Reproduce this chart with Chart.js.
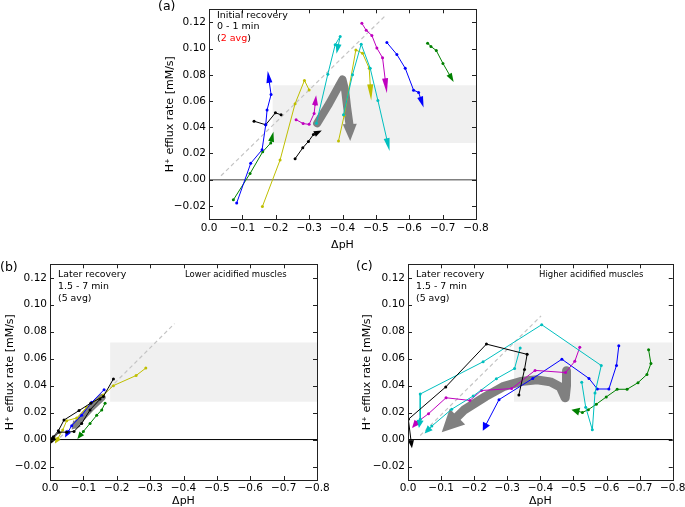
<!DOCTYPE html>
<html><head><meta charset="utf-8">
<script src="https://cdn.jsdelivr.net/npm/chart.js@4.4.1/dist/chart.umd.min.js"></script>
<style>
html,body{margin:0;padding:0;background:#fff;width:685px;height:507px;overflow:hidden;position:relative;font-family:"DejaVu Sans",sans-serif;}
canvas{position:absolute;}
.t{position:absolute;white-space:nowrap;color:#000;font-family:"DejaVu Sans",sans-serif;}
</style></head><body>
<canvas id="ca" width="345" height="255" style="left:150px;top:0px"></canvas>
<canvas id="cb" width="335" height="252" style="left:0px;top:255px"></canvas>
<canvas id="cc" width="330" height="252" style="left:357px;top:255px"></canvas>

<div class="t" style="left:158px;top:-1px;font-size:12.5px;line-height:14px">(a)</div>
<div class="t" style="left:0px;top:260px;font-size:12.5px;line-height:14px">(b)</div>
<div class="t" style="left:356px;top:259px;font-size:12.5px;line-height:14px">(c)</div>
<div class="t" style="left:217px;top:9px;font-size:9.5px;line-height:11.3px">Initial recovery<br>0 - 1 min<br>(<span style="color:#ff0000">2 avg</span>)</div>
<div class="t" style="left:58px;top:267.7px;font-size:9.4px;line-height:12px">Later recovery<br>1.5 - 7 min<br>(5 avg)</div>
<div class="t" style="left:416px;top:267.7px;font-size:9.4px;line-height:12px">Later recovery<br>1.5 - 7 min<br>(5 avg)</div>
<div class="t" style="left:185px;top:268.8px;font-size:8.5px;line-height:10px">Lower acidified muscles</div>
<div class="t" style="left:539px;top:268.8px;font-size:8.5px;line-height:10px">Higher acidified muscles</div>

<script>
// ---------- axis ticks ----------
const xTicks = [0, -0.1, -0.2, -0.3, -0.4, -0.5, -0.6, -0.7, -0.8];
const yTicks = [-0.02, 0, 0.02, 0.04, 0.06, 0.08, 0.10, 0.12];
const bandTop = 0.072, bandBottom = 0.028;

// ---------- panel (a): initial recovery (dpH, efflux) ----------
const aBlue1    = [[-0.083,-0.0178],[-0.125,0.0125],[-0.159,0.0228],[-0.170,0.0419],[-0.174,0.0532],[-0.186,0.0649],[-0.176,0.0830]];
const aGreen1   = [[-0.073,-0.0154],[-0.123,0.0047],[-0.161,0.0213],[-0.185,0.0280],[-0.193,0.0365]];
const aBlack1   = [[-0.135,0.0446],[-0.170,0.0419],[-0.199,0.0510],[-0.216,0.0495]];
const aYellow1  = [[-0.160,-0.0205],[-0.213,0.0150],[-0.258,0.0580],[-0.286,0.0757],[-0.300,0.0685]];
const aMagenta1 = [[-0.261,0.0458],[-0.282,0.0428],[-0.300,0.0422],[-0.315,0.0505],[-0.318,0.0575],[-0.321,0.0645]];
const aBlack2   = [[-0.258,0.0160],[-0.281,0.0243],[-0.298,0.0292],[-0.313,0.0345],[-0.338,0.0375]];
const aCyan1    = [[-0.322,0.0430],[-0.356,0.0805],[-0.378,0.1029],[-0.393,0.1093],[-0.382,0.0960]];
const aCyan2    = [[-0.403,0.0495],[-0.430,0.0800],[-0.456,0.1034],[-0.483,0.0850],[-0.506,0.0605],[-0.541,0.0218]];
const aYellow2  = [[-0.388,0.0295],[-0.405,0.0490],[-0.440,0.0990],[-0.460,0.0965],[-0.480,0.0850],[-0.486,0.0605]];
const aMagenta2 = [[-0.458,0.1193],[-0.471,0.1140],[-0.488,0.1100],[-0.503,0.1004],[-0.520,0.0930],[-0.533,0.0659]];
const aBlue2    = [[-0.533,0.1046],[-0.563,0.0955],[-0.588,0.0850],[-0.613,0.0683],[-0.628,0.0666],[-0.643,0.0551]];
const aGreen2   = [[-0.655,0.1041],[-0.665,0.1017],[-0.681,0.0985],[-0.701,0.0887],[-0.733,0.0745]];
const aMean     = [[-0.324,0.0430],[-0.360,0.0580],[-0.390,0.0720],[-0.400,0.0765],[-0.408,0.0680],[-0.414,0.0550],[-0.422,0.0400],[-0.423,0.0295]];
const aDiag     = [[-0.036,0.003],[-0.528,0.125]];
const aBandX    = [-0.19, -0.8];

// ---------- panel (b): later recovery, lower acidified ----------
const bBlack1 = [[-0.190,0.0450],[-0.160,0.0320],[-0.122,0.0270],[-0.087,0.0215],[-0.042,0.0145],[-0.025,0.0065],[-0.010,0.0020],[-0.002,-0.0030]];
const bBlack2 = [[-0.150,0.0300],[-0.120,0.0220],[-0.095,0.0120],[-0.072,0.0060],[-0.050,0.0055],[-0.027,0.0055],[-0.010,0.0010],[-0.004,-0.0030]];
const bBlue   = [[-0.162,0.0370],[-0.125,0.0276],[-0.095,0.0180],[-0.065,0.0103],[-0.055,0.0060],[-0.045,0.0015]];
const bGreen  = [[-0.165,0.0269],[-0.155,0.0220],[-0.140,0.0180],[-0.120,0.0120],[-0.100,0.0060],[-0.082,0.0005]];
const bYellow = [[-0.287,0.0530],[-0.258,0.0475],[-0.190,0.0400],[-0.160,0.0330],[-0.110,0.0240],[-0.080,0.0160],[-0.050,0.0140],[-0.038,0.0070],[-0.024,0.0010],[-0.015,-0.0030]];
const bMean   = [[-0.156,0.0313],[-0.125,0.0240],[-0.095,0.0160],[-0.065,0.0075]];
const bDiag   = [[-0.030,0.0015],[-0.373,0.086]];
const bBandX  = [-0.18, -0.8];

// ---------- panel (c): later recovery, higher acidified ----------
const cBlack   = [[-0.335,0.0331],[-0.352,0.0520],[-0.360,0.0632],[-0.237,0.0708],[-0.114,0.0390],[-0.001,0.0150],[-0.012,-0.0065]];
const cCyan1   = [[-0.525,0.0426],[-0.537,0.0240],[-0.557,0.0072],[-0.565,0.0345],[-0.584,0.0549],[-0.404,0.0852],[-0.227,0.0577],[-0.037,0.0338],[-0.037,0.0150],[-0.033,0.0085]];
const cCyan2   = [[-0.339,0.0679],[-0.322,0.0527],[-0.267,0.0451],[-0.197,0.0323],[-0.132,0.0225],[-0.072,0.0100],[-0.050,0.0045]];
const cMagenta = [[-0.519,0.0684],[-0.504,0.0580],[-0.476,0.0497],[-0.384,0.0513],[-0.313,0.0378],[-0.222,0.0364],[-0.187,0.0290],[-0.115,0.0310],[-0.062,0.0192],[-0.028,0.0130],[-0.012,0.0085]];
const cBlue    = [[-0.637,0.0695],[-0.630,0.0550],[-0.607,0.0375],[-0.572,0.0375],[-0.547,0.0453],[-0.465,0.0596],[-0.377,0.0453],[-0.275,0.0296],[-0.226,0.0065]];
const cGreen   = [[-0.727,0.0667],[-0.734,0.0564],[-0.722,0.0483],[-0.695,0.0422],[-0.662,0.0373],[-0.632,0.0373],[-0.599,0.0316],[-0.569,0.0262],[-0.545,0.0222],[-0.527,0.0201],[-0.494,0.0222]];
const cMean    = [[-0.479,0.0510],[-0.479,0.0400],[-0.475,0.0310],[-0.460,0.0390],[-0.430,0.0428],[-0.390,0.0443],[-0.340,0.0430],[-0.290,0.0395],[-0.235,0.0320],[-0.170,0.0220],[-0.102,0.0055]];
const cDiag    = [[-0.037,0.003],[-0.402,0.0917]];
const cBandX   = [-0.32, -0.8];

// ---------- styles ----------
const COL = {b:'#0000ff', g:'#008000', c:'#00bfbf', m:'#bf00bf', y:'#bfbf00', k:'#000000', mean:'#808080'};
const FONT = '"DejaVu Sans", sans-serif';
const toXY = pts => pts.map(p => ({x:p[0], y:p[1]}));

function series(pts, color, head) {
  const n = pts.length;
  return {
    data: toXY(pts), borderColor: color, backgroundColor: color, borderWidth: 1,
    pointRadius: c => (head && c.dataIndex === n - 1) ? 0 : 1.5,
    pointBorderWidth: 0, pointBackgroundColor: color, pointHoverRadius: 0,
    order: 1, headLen: head ? head[0] : 0, headW: head ? head[1] : 0, headBack: 0.5
  };
}
function meanSeries(pts, width, head) {
  return {
    data: toXY(pts), borderColor: COL.mean, backgroundColor: COL.mean, borderWidth: width,
    borderJoinStyle: 'round', borderCapStyle: 'round', pointRadius: 0, order: 2,
    headLen: head[0], headW: head[1], headBack: 0.75
  };
}
function band(xr) {
  return {data: toXY([[xr[0], bandTop], [xr[1], bandTop]]), borderWidth: 0, pointRadius: 0,
          fill: {value: bandBottom}, backgroundColor: '#f0f0f0', order: 6};
}
function diag(pts) {
  return {data: toXY(pts), borderColor: '#c4c4c4', borderWidth: 1.2, borderDash: [4, 3], pointRadius: 0, order: 4};
}
function zero(color, w) {
  return {data: toXY([[0, 0], [-0.8, 0]]), borderColor: color, borderWidth: w, pointRadius: 0, order: 5};
}

// arrow heads drawn at the last point of a dataset, direction from previous point
const headPlugin = {
  id: 'heads',
  beforeDatasetDraw(chart, args) {
    const ds = chart.data.datasets[args.index];
    if (!ds.headLen) return;
    const pts = args.meta.data, n = pts.length;
    const tip = pts[n - 1], prev = pts[n - 2];
    const dx = tip.x - prev.x, dy = tip.y - prev.y, d = Math.hypot(dx, dy) || 1;
    const ux = dx / d, uy = dy / d;
    chart.$heads = chart.$heads || {};
    chart.$heads[args.index] = {x: tip.x, y: tip.y, ux, uy};
    const back = Math.min(ds.headLen * ds.headBack, d * 0.9);
    tip.x -= ux * back; tip.y -= uy * back;
    args.meta.dataset._path = undefined;
  },
  afterDatasetDraw(chart, args) {
    const ds = chart.data.datasets[args.index];
    if (!ds.headLen) return;
    const h = chart.$heads[args.index];
    const pts = args.meta.data, tip = pts[pts.length - 1];
    tip.x = h.x; tip.y = h.y;
    const ctx = chart.ctx, L = ds.headLen, W = ds.headW;
    const bx = h.x - h.ux * L, by = h.y - h.uy * L;
    ctx.save();
    ctx.fillStyle = ds.borderColor;
    ctx.beginPath();
    ctx.moveTo(h.x, h.y);
    ctx.lineTo(bx - h.uy * W, by + h.ux * W);
    ctx.lineTo(bx + h.uy * W, by - h.ux * W);
    ctx.closePath();
    ctx.fill();
    ctx.restore();
  }
};

// matplotlib-like frame with inward ticks on all sides
const framePlugin = {
  id: 'frame',
  afterDatasetsDraw(chart) {
    const {ctx, chartArea: a, scales: {x, y}} = chart;
    ctx.save();
    ctx.strokeStyle = '#222'; ctx.lineWidth = 1;
    ctx.beginPath();
    xTicks.forEach(v => {
      const p = Math.round(x.getPixelForValue(v)) + 0.5;
      ctx.moveTo(p, a.bottom); ctx.lineTo(p, a.bottom - 4);
      ctx.moveTo(p, a.top); ctx.lineTo(p, a.top + 4);
    });
    yTicks.forEach(v => {
      const p = Math.round(y.getPixelForValue(v)) + 0.5;
      ctx.moveTo(a.left, p); ctx.lineTo(a.left + 4, p);
      ctx.moveTo(a.right, p); ctx.lineTo(a.right - 4, p);
    });
    ctx.stroke();
    ctx.strokeRect(Math.round(a.left) + 0.5, Math.round(a.top) + 0.5, Math.round(a.right - a.left), Math.round(a.bottom - a.top));
    ctx.restore();
  }
};

function fmtX(v) { return Math.abs(v) < 1e-9 ? '0.0' : '\u2212' + Math.abs(v).toFixed(1); }
function fmtY(v) { return Math.abs(v) < 1e-9 ? '0.00' : (v < 0 ? '\u2212' : '') + Math.abs(v).toFixed(2); }

function makeChart(id, datasets, geo) {
  new Chart(document.getElementById(id), {
    type: 'line',
    data: {datasets},
    options: {
      responsive: false, animation: false, events: [],
      layout: {padding: {top: geo.top, right: geo.right, left: 0, bottom: 0}},
      plugins: {legend: {display: false}, tooltip: {enabled: false}},
      scales: {
        x: {
          type: 'linear', min: -0.8, max: 0, reverse: true,
          afterBuildTicks: s => { s.ticks = xTicks.map(v => ({value: v})); },
          afterFit: s => { s.height = geo.xh; },
          grid: {display: false, drawTicks: false}, border: {display: false},
          ticks: {callback: fmtX, color: '#000', font: {family: FONT, size: 10.5}, padding: geo.xpad, maxRotation: 0, autoSkip: false},
          title: {display: true, text: '\u0394pH', color: '#000', font: {family: FONT, size: 11, lineHeight: 1}, padding: {top: 0, bottom: geo.xtp}}
        },
        y: {
          type: 'linear', min: -0.03, max: 0.13,
          afterBuildTicks: s => { s.ticks = yTicks.map(v => ({value: v})); },
          afterFit: s => { s.width = geo.yw; },
          grid: {display: false, drawTicks: false}, border: {display: false},
          ticks: {callback: fmtY, color: '#000', font: {family: FONT, size: 10.5}, padding: 3, autoSkip: false},
          title: {display: true, text: 'H\u207A efflux rate [mM/s]', color: '#000', font: {family: FONT, size: 11, lineHeight: 1}, padding: {top: geo.ytp, bottom: 0}}
        }
      }
    },
    plugins: [headPlugin, framePlugin]
  });
}

makeChart('ca', [
  series(aBlue1, COL.b, [12, 3]),
  series(aGreen1, COL.g, [10, 3]),
  series(aBlack1, COL.k, null),
  series(aYellow1, COL.y, null),
  series(aMagenta1, COL.m, [10, 3]),
  series(aBlack2, COL.k, [8, 3]),
  series(aCyan1, COL.c, [10, 3]),
  series(aCyan2, COL.c, [13, 3]),
  series(aYellow2, COL.y, [16, 3]),
  series(aMagenta2, COL.m, [15, 3]),
  series(aBlue2, COL.b, [11, 3]),
  series(aGreen2, COL.g, [9, 3]),
  meanSeries(aMean, 8, [17, 7]),
  diag(aDiag), zero('#808080', 1.6), band(aBandX)
], {top: 3, right: 19, yw: 59, xh: 36, xpad: 3, xtp: 4.5, ytp: 14.5});

makeChart('cb', [
  series(bBlack1, COL.k, [6, 3]),
  series(bBlack2, COL.k, [6, 3]),
  series(bBlue, COL.b, [7, 3]),
  series(bGreen, COL.g, [7, 3]),
  series(bYellow, COL.y, [6, 3]),
  meanSeries(bMean, 7, [8, 5]),
  diag(bDiag), zero('#000000', 1), band(bBandX)
], {top: 8, right: 18, yw: 50, xh: 27, xpad: 1.5, xtp: 0, ytp: 4.5});

makeChart('cc', [
  series(cBlack, COL.k, [8, 3]),
  series(cCyan1, COL.c, [8, 3.5]),
  series(cCyan2, COL.c, [8, 3.5]),
  series(cMagenta, COL.m, [8, 3.5]),
  series(cBlue, COL.b, [8, 4]),
  series(cGreen, COL.g, [8, 4]),
  meanSeries(cMean, 9, [22, 11]),
  diag(cDiag), zero('#000000', 1), band(cBandX)
], {top: 8, right: 13, yw: 51, xh: 27, xpad: 1.5, xtp: 0, ytp: 4.5});
</script>
</body></html>
